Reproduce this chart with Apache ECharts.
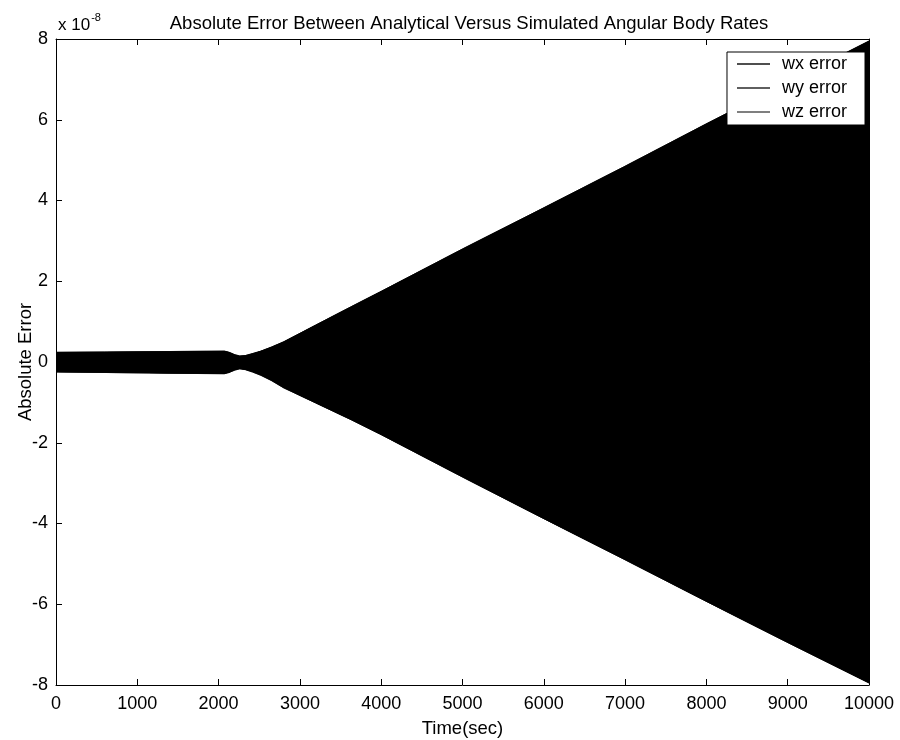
<!DOCTYPE html>
<html>
<head>
<meta charset="utf-8">
<script src="https://cdn.jsdelivr.net/npm/echarts@6/dist/echarts.min.js"></script>
<style>
  html, body { margin: 0; padding: 0; background: #fff; }
  #chart { width: 900px; height: 740px; }
</style>
</head>
<body>
<div id="chart"></div>
<script>
// Axis ticks
const xTicks = [0, 1000, 2000, 3000, 4000, 5000, 6000, 7000, 8000, 9000, 10000];
const yTicks = [-8, -6, -4, -2, 0, 2, 4, 6, 8];   // in units of 1e-8

// Series
const seriesNames = ['wx error', 'wy error', 'wz error'];
const seriesColors = ['#151515', '#2a2a2a', '#555555'];

// Envelope of the fast oscillation of the rate errors (units of 1e-8)
const envTime  = [0, 600, 1400, 2070, 2130, 2200, 2260, 2330, 2420, 2520, 2650, 2800, 3200, 3630, 4000, 5000, 6000, 7000, 8000, 9000, 10000];
const envUpper = [0.24, 0.25, 0.26, 0.27, 0.24, 0.18, 0.15, 0.16, 0.21, 0.27, 0.37, 0.50, 0.92, 1.37, 1.75, 2.80, 3.82, 4.85, 5.90, 6.93, 7.95];
const envLower = [-0.25, -0.26, -0.28, -0.29, -0.26, -0.20, -0.17, -0.19, -0.25, -0.33, -0.46, -0.64, -1.02, -1.43, -1.80, -2.85, -3.88, -4.90, -5.93, -6.95, -7.95];

const FONT = '"Liberation Sans", Arial, Helvetica, sans-serif';

const envData = envTime.map((t, i) => [t, envUpper[i], envLower[i]]);

// Filled band between the upper and lower envelope
function renderBand(params, api) {
  if (params.dataIndex !== 0) return null;
  const top = envTime.map((t, i) => api.coord([t, envUpper[i]]));
  const bottom = envTime.map((t, i) => api.coord([t, envLower[i]])).reverse();
  return {
    type: 'polygon',
    shape: { points: top.concat(bottom) },
    style: { fill: '#000', stroke: '#000', lineWidth: 0.5 }
  };
}

const xMin = xTicks[0], xMax = xTicks[xTicks.length - 1];
const yMin = yTicks[0], yMax = yTicks[yTicks.length - 1];
const xStep = xTicks[1] - xTicks[0];
const yStep = yTicks[1] - yTicks[0];

function axisCommon(extra) {
  return Object.assign({
    type: 'value',
    axisLine: { show: true, onZero: false, lineStyle: { color: '#000', width: 1 } },
    axisTick: { show: true, inside: true, length: 6, lineStyle: { color: '#000', width: 1 } },
    splitLine: { show: false },
    axisLabel: { show: false }
  }, extra);
}

const chart = echarts.init(document.getElementById('chart'), null, { renderer: 'canvas' });

chart.setOption({
  backgroundColor: '#fff',
  animation: false,
  title: {
    text: 'Absolute Error Between Analytical Versus Simulated Angular Body Rates',
    left: 464, top: 9, textAlign: 'center',
    textStyle: { fontFamily: FONT, fontSize: 18.5, fontWeight: 'normal', color: '#000' }
  },
  grid: { left: 56, right: 31, top: 39, bottom: 55, show: false, containLabel: false, outerBoundsMode: 'none' },
  xAxis: [
    axisCommon({
      position: 'bottom', min: xMin, max: xMax, interval: xStep,
      name: 'Time(sec)', nameLocation: 'middle', nameGap: 34,
      nameTextStyle: { fontFamily: FONT, fontSize: 18.5, color: '#000' },
      axisLabel: { show: true, margin: 10, fontFamily: FONT, fontSize: 18, color: '#000',
                   formatter: v => String(v) }
    }),
    axisCommon({ position: 'top', min: xMin, max: xMax, interval: xStep })
  ],
  yAxis: [
    axisCommon({
      position: 'left', min: yMin, max: yMax, interval: yStep,
      name: 'Absolute Error', nameLocation: 'middle', nameGap: 21, nameRotate: 90,
      nameMoveOverlap: false,
      nameTextStyle: { fontFamily: FONT, fontSize: 18.5, color: '#000' },
      axisLabel: { show: true, margin: 8, fontFamily: FONT, fontSize: 18, color: '#000',
                   formatter: v => String(v) }
    }),
    axisCommon({ position: 'right', min: yMin, max: yMax, interval: yStep })
  ],
  legend: {
    orient: 'vertical',
    right: 35, top: 52,
    backgroundColor: '#fff',
    borderColor: '#000', borderWidth: 1, borderRadius: 0,
    padding: [3, 18, 4, 10],
    itemWidth: 33, itemHeight: 1.5, itemGap: 6,
    icon: 'rect',
    data: seriesNames,
    formatter: name => '{t|' + name + '}',
    textStyle: {
      fontFamily: FONT, fontSize: 18, color: '#000',
      rich: { t: { fontFamily: FONT, fontSize: 18, color: '#000', padding: [0, 0, 0, 7], lineHeight: 18 } }
    }
  },
  graphic: [{
    type: 'text', left: 58, top: 12,
    style: {
      text: '{b|x 10}{s|-8}',
      rich: {
        b: { fontFamily: FONT, fontSize: 17, fill: '#000', verticalAlign: 'bottom', lineHeight: 22 },
        s: { fontFamily: FONT, fontSize: 11, fill: '#000', verticalAlign: 'top', lineHeight: 22, padding: [0, 0, 10, 1] }
      }
    }
  }],
  series: seriesNames.map((name, k) => ({
    name: name,
    type: 'custom',
    xAxisIndex: 0, yAxisIndex: 0,
    itemStyle: { color: seriesColors[k] },
    encode: { x: 0, y: [1, 2] },
    renderItem: renderBand,
    data: envData,
    clip: true,
    silent: true
  }))
});
</script>
</body>
</html>
